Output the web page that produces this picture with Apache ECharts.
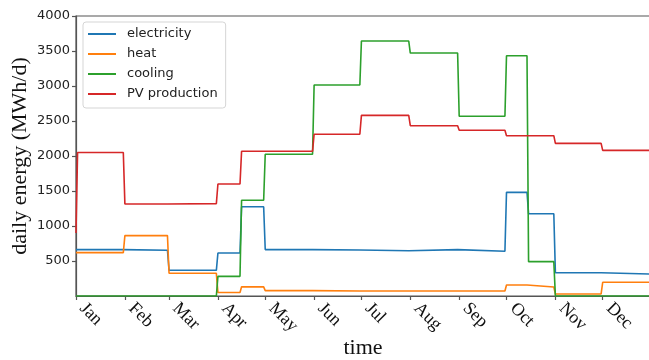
<!DOCTYPE html>
<html>
<head>
<meta charset="utf-8">
<script src="https://cdn.jsdelivr.net/npm/echarts@6/dist/echarts.min.js"></script>
<style>
  html, body { margin: 0; padding: 0; background: #fff; }
  #chart { width: 649px; height: 360px; }
</style>
</head>
<body>
<div id="chart"></div>
<script>
// Day-of-year (0-based) at which each tariff period begins; the year ends after day 364.
const periodStarts = [0, 31, 59, 90, 105, 120, 151, 181, 212, 243, 273, 287, 304, 334];
const lastDay = 364;

// Daily energy per period (MWh/d)
const electricity = [663, 653, 367, 614, 1276, 663, 657, 647, 663, 639, 1481, 1176, 333, 314];
const heat        = [619, 863, 324, 49, 131, 77, 71, 71, 72, 71, 157, 129, 29, 196];
const cooling     = [0, 0, 0, 281, 1367, 2024, 3014, 3643, 3471, 2567, 3433, 491, 0, 0];
const pvProduction = [2049, 1314, 1319, 1600, 2067, 2067, 2310, 2581, 2433, 2367, 2290, 2290, 2180, 2081];
// The first day of the PV record is only partly covered, so its total is lower.
const pvFirstDay = 900;

// Axis ticks
const monthStarts = [0, 31, 59, 90, 120, 151, 181, 212, 243, 273, 304, 334];
const monthNames = ['Jan', 'Feb', 'Mar', 'Apr', 'May', 'Jun', 'Jul', 'Aug', 'Sep', 'Oct', 'Nov', 'Dec'];
const yTicks = [500, 1000, 1500, 2000, 2500, 3000, 3500, 4000];

// One point on the first and last day of every period, so the change between
// periods happens over a single day like the daily data it summarises.
function dailySteps(values, firstDay) {
  const pts = [];
  for (let i = 0; i < periodStarts.length; i++) {
    const s = periodStarts[i];
    const e = i + 1 < periodStarts.length ? periodStarts[i + 1] - 1 : lastDay;
    if (i === 0 && firstDay !== undefined) {
      pts.push([s, firstDay]);
      pts.push([s + 1, values[i]]);
    } else {
      pts.push([s, values[i]]);
    }
    pts.push([e, values[i]]);
  }
  return pts;
}

const serif = '"Liberation Serif", "DejaVu Serif", serif';
const sans = '"DejaVu Sans", sans-serif';
const axisColor = '#555';

const chart = echarts.init(document.getElementById('chart'), null, { renderer: 'canvas' });

function line(name, color, values, firstDay) {
  return {
    name: name,
    type: 'line',
    data: dailySteps(values, firstDay),
    symbol: 'none',
    lineStyle: { color: color, width: 1.6 },
    itemStyle: { color: color },
    emphasis: { disabled: true }
  };
}

chart.setOption({
  animation: false,
  grid: {
    left: 76, top: 16, width: 574, height: 280,
    outerBoundsMode: 'none',
    containLabel: false,
    show: true, borderColor: axisColor, borderWidth: 1.2, backgroundColor: 'transparent'
  },
  legend: {
    left: 83, top: 22,
    orient: 'vertical',
    icon: 'rect',
    itemWidth: 28, itemHeight: 2,
    itemGap: 6,
    padding: [5, 8, 7, 5],
    backgroundColor: 'rgba(255,255,255,0.8)',
    borderColor: '#d5d5d5', borderWidth: 1, borderRadius: 3,
    textStyle: { fontFamily: sans, fontSize: 13, color: '#222', lineHeight: 14, padding: [0, 0, 0, 6] },
    data: ['electricity', 'heat', 'cooling', 'PV production']
  },
  xAxis: {
    type: 'value',
    min: 0, max: lastDay,
    name: 'time',
    nameLocation: 'middle',
    nameGap: 41,
    nameMoveOverlap: false,
    nameTextStyle: { fontFamily: serif, fontSize: 22, color: '#111' },
    axisLine: { show: true, lineStyle: { color: axisColor, width: 1.2 } },
    axisTick: { show: true, length: 4, lineStyle: { color: axisColor, width: 1.2 }, customValues: monthStarts },
    axisLabel: {
      customValues: monthStarts,
      rotate: -45,
      margin: 16,
      verticalAlign: 'bottom',
      fontFamily: serif, fontSize: 18, color: '#111',
      formatter: v => monthNames[monthStarts.indexOf(Math.round(v))] || ''
    },
    splitLine: { show: false }
  },
  yAxis: {
    type: 'value',
    min: 0, max: 4000, interval: 500,
    name: 'daily energy (MWh/d)',
    nameLocation: 'middle',
    nameGap: 45,
    nameMoveOverlap: false,
    nameTextStyle: { fontFamily: serif, fontSize: 22, color: '#111' },
    axisLine: { show: true, lineStyle: { color: axisColor, width: 1.2 } },
    axisTick: { show: true, length: 4, lineStyle: { color: axisColor, width: 1.2 }, customValues: yTicks },
    axisLabel: {
      customValues: yTicks, margin: 6, fontFamily: sans, fontSize: 13, color: '#222',
      formatter: v => String(v)
    },
    splitLine: { show: false }
  },
  series: [
    line('electricity', '#1f77b4', electricity),
    line('heat', '#ff7f0e', heat),
    line('cooling', '#2ca02c', cooling),
    line('PV production', '#d62728', pvProduction, pvFirstDay)
  ]
});
</script>
</body>
</html>
